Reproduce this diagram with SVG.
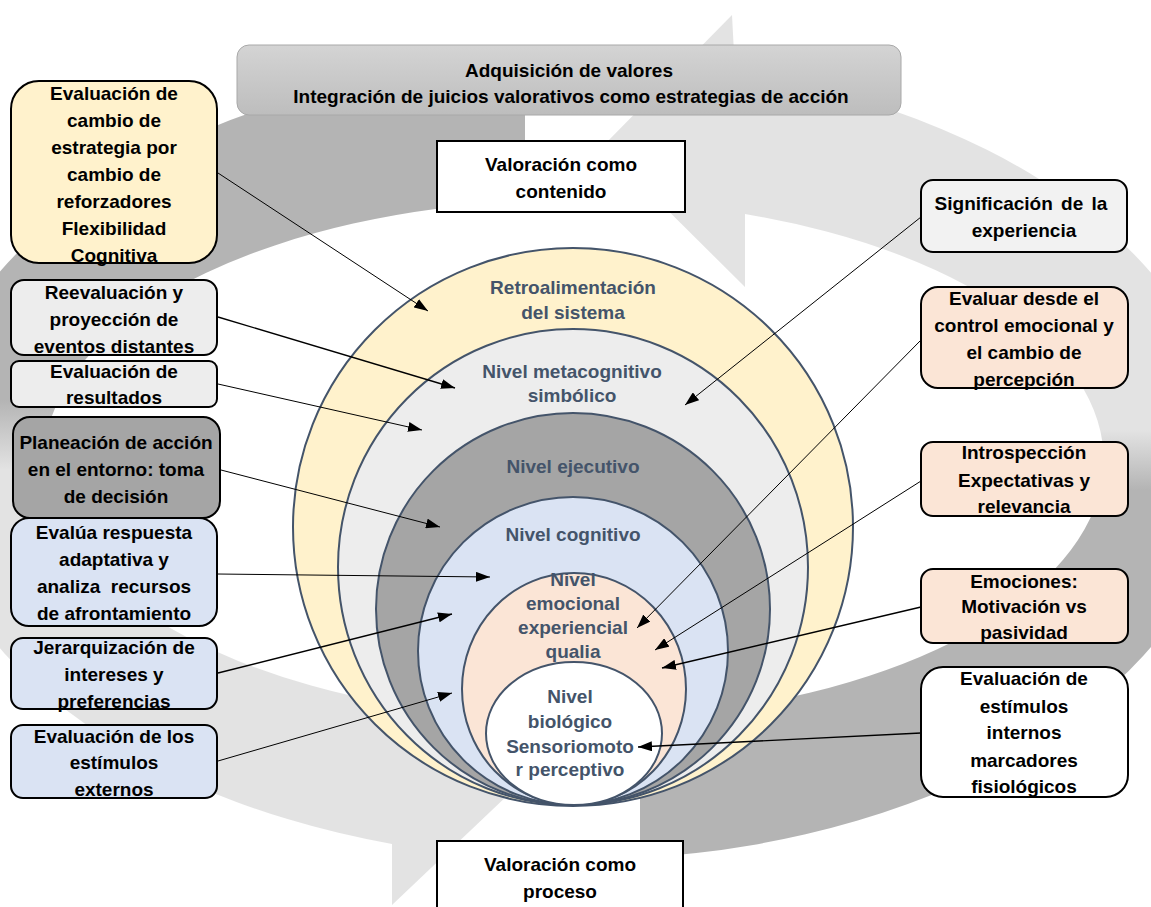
<svg xmlns="http://www.w3.org/2000/svg" width="1151" height="907" viewBox="0 0 1151 907">
  <defs>
    <!-- gradients for the two circular background arrows (dark tail, light head) -->
    <linearGradient id="gradLeft" gradientUnits="userSpaceOnUse" x1="0" y1="400" x2="0" y2="470">
      <stop offset="0" stop-color="#b4b4b4"/>
      <stop offset="1" stop-color="#e3e3e3"/>
    </linearGradient>
    <linearGradient id="gradRight" gradientUnits="userSpaceOnUse" x1="0" y1="430" x2="0" y2="490">
      <stop offset="0" stop-color="#e3e3e3"/>
      <stop offset="1" stop-color="#b4b4b4"/>
    </linearGradient>
    <linearGradient id="gradTitle" x1="0" y1="0" x2="0" y2="1">
      <stop offset="0" stop-color="#d4d4d4"/>
      <stop offset="1" stop-color="#bdbdbd"/>
    </linearGradient>
    <marker id="arrowHead" markerUnits="userSpaceOnUse" markerWidth="14" markerHeight="10" refX="14" refY="5" orient="auto">
      <path d="M0,0 L14,5 L0,10 Z" fill="#000"/>
    </marker>
    <style>
      .box { stroke: #000; stroke-width: 2; }
      .txt { font-family: "Liberation Sans", Arial, sans-serif; font-weight: bold; font-size: 19px; text-anchor: middle; fill: #000; }
      .lvl { font-family: "Liberation Sans", Arial, sans-serif; font-weight: bold; font-size: 19px; text-anchor: middle; fill: #44546a; }
      .ring { stroke: #44546a; stroke-width: 2; }
      .conn { fill: none; stroke: #000; stroke-width: 1; marker-end: url(#arrowHead); }
      .conn.heavy { stroke-width: 1.4; }
    </style>
  </defs>

  <rect width="1151" height="907" fill="#fff"/>

  <!-- background: two circular arrows -->
  <g id="cycle-arrows">
    <path id="arrow-left" fill="url(#gradLeft)"
          d="M525,61 A650,400 0 0 0 392,844 L392,905 L529,775 L392,639 L392,704 A530,260 0 0 1 525,201 Z"/>
    <path id="arrow-right" fill="url(#gradRight)"
          d="M640,858 A650,400 0 0 0 735,72 L732,15 L603,146 L745,287 L745,214 A530,260 0 0 1 640,718 Z"/>
  </g>

  <!-- title banner -->
  <g id="title">
    <rect x="237" y="45" width="664" height="70" rx="12" fill="url(#gradTitle)" stroke="#a8a8a8" stroke-width="1"/>
    <text class="txt" x="569" y="77" font-size="19.3">Adquisición de valores</text>
    <text class="txt" x="571" y="103" font-size="19.3">Integración de juicios valorativos como estrategias de acción</text>
  </g>

  <g id="valoracion-contenido">
    <rect class="box" x="437" y="141" width="248" height="71" fill="#fff"/>
    <text class="txt" x="561" y="171">Valoración como</text>
    <text class="txt" x="561" y="198">contenido</text>
  </g>

  <g id="valoracion-proceso">
    <rect class="box" x="437" y="841" width="246" height="80" fill="#fff"/>
    <text class="txt" x="560" y="871">Valoración como</text>
    <text class="txt" x="560" y="898">proceso</text>
  </g>

  <!-- nested levels -->
  <g id="levels">
    <g id="nivel-retroalimentacion">
      <ellipse class="ring" cx="573" cy="527" rx="280" ry="279" fill="#fff2cc"/>
    </g>
    <g id="nivel-metacognitivo">
      <ellipse class="ring" cx="573" cy="567" rx="235" ry="238" fill="#ededed"/>
    </g>
    <g id="nivel-ejecutivo">
      <ellipse class="ring" cx="573" cy="609" rx="197" ry="196" fill="#a5a5a5"/>
    </g>
    <g id="nivel-cognitivo">
      <ellipse class="ring" cx="573" cy="651" rx="155" ry="154" fill="#dae3f3"/>
    </g>
    <g id="nivel-emocional">
      <ellipse class="ring" cx="574" cy="689" rx="112" ry="116" fill="#fbe5d6"/>
    </g>
    <g id="nivel-biologico">
      <ellipse class="ring" cx="574" cy="733.5" rx="88" ry="71.5" fill="#fff"/>
    </g>
    <g id="level-labels">
      <text class="lvl" x="573" y="294">Retroalimentación</text>
      <text class="lvl" x="573" y="319">del sistema</text>
      <text class="lvl" x="572" y="378">Nivel metacognitivo</text>
      <text class="lvl" x="572" y="402">simbólico</text>
      <text class="lvl" x="573" y="473">Nivel ejecutivo</text>
      <text class="lvl" x="573" y="541">Nivel cognitivo</text>
      <text class="lvl" x="573" y="586">Nivel</text>
      <text class="lvl" x="573" y="610">emocional</text>
      <text class="lvl" x="573" y="634">experiencial</text>
      <text class="lvl" x="573" y="658">qualia</text>
      <text class="lvl" x="570" y="703">Nivel</text>
      <text class="lvl" x="570" y="728">biológico</text>
      <text class="lvl" x="570" y="753">Sensoriomoto</text>
      <text class="lvl" x="570" y="776">r perceptivo</text>
    </g>
  </g>

  <!-- connectors -->
  <g id="connectors">
    <line class="conn" x1="218" y1="173" x2="428" y2="311"/>
    <line class="conn heavy" x1="218" y1="317" x2="455" y2="388"/>
    <line class="conn" x1="218" y1="384" x2="422" y2="430"/>
    <line class="conn" x1="221" y1="470" x2="440" y2="527"/>
    <line class="conn" x1="217" y1="574" x2="490" y2="577"/>
    <line class="conn heavy" x1="218" y1="673" x2="452" y2="614"/>
    <line class="conn" x1="218" y1="761" x2="452" y2="693"/>
    <line class="conn" x1="921" y1="217" x2="685" y2="405"/>
    <line class="conn" x1="921" y1="340" x2="637" y2="628"/>
    <line class="conn" x1="921" y1="481" x2="655" y2="650"/>
    <line class="conn heavy" x1="921" y1="607" x2="662" y2="668"/>
    <line class="conn heavy" x1="921" y1="733" x2="638" y2="747"/>
  </g>

  <!-- left column -->
  <g id="flexibilidad-cognitiva">
    <rect class="box" x="11" y="81" width="206" height="182" rx="28" fill="#fff2cc"/>
    <text class="txt" x="114" y="100">Evaluación de</text>
    <text class="txt" x="114" y="127">cambio de</text>
    <text class="txt" x="114" y="154">estrategia por</text>
    <text class="txt" x="114" y="181">cambio de</text>
    <text class="txt" x="114" y="208">reforzadores</text>
    <text class="txt" x="114" y="235">Flexibilidad</text>
    <text class="txt" x="114" y="262">Cognitiva</text>
  </g>
  <g id="reevaluacion">
    <rect class="box" x="11" y="280" width="206" height="75" rx="13" fill="#ededed"/>
    <text class="txt" x="114" y="299">Reevaluación y</text>
    <text class="txt" x="114" y="326">proyección de</text>
    <text class="txt" x="114" y="353">eventos distantes</text>
  </g>
  <g id="evaluacion-resultados">
    <rect class="box" x="11" y="361" width="206" height="46" rx="8" fill="#ededed"/>
    <text class="txt" x="114" y="378">Evaluación de</text>
    <text class="txt" x="114" y="404">resultados</text>
  </g>
  <g id="planeacion-accion">
    <rect class="box" x="13" y="417" width="207" height="101" rx="17" fill="#a5a5a5"/>
    <text class="txt" x="116" y="449">Planeación de acción</text>
    <text class="txt" x="116" y="476">en el entorno: toma</text>
    <text class="txt" x="116" y="503">de decisión</text>
  </g>
  <g id="respuesta-adaptativa">
    <rect class="box" x="11" y="518" width="206" height="108" rx="18" fill="#dae3f3"/>
    <text class="txt" x="114" y="539">Evalúa respuesta</text>
    <text class="txt" x="114" y="566">adaptativa y</text>
    <text class="txt" x="114" y="593" xml:space="preserve">analiza  recursos</text>
    <text class="txt" x="114" y="620">de afrontamiento</text>
  </g>
  <g id="jerarquizacion">
    <rect class="box" x="11" y="638" width="206" height="71" rx="12" fill="#dae3f3"/>
    <text class="txt" x="114" y="654">Jerarquización de</text>
    <text class="txt" x="114" y="681">intereses y</text>
    <text class="txt" x="114" y="708">preferencias</text>
  </g>
  <g id="estimulos-externos">
    <rect class="box" x="11" y="725" width="206" height="73" rx="12" fill="#dae3f3"/>
    <text class="txt" x="114" y="743">Evaluación de los</text>
    <text class="txt" x="114" y="769">estímulos</text>
    <text class="txt" x="114" y="796">externos</text>
  </g>

  <!-- right column -->
  <g id="significacion">
    <rect class="box" x="921" y="180" width="206" height="72" rx="12" fill="#f2f2f2"/>
    <text class="txt" x="1021" y="210" word-spacing="3">Significación de la</text>
    <text class="txt" x="1024" y="237">experiencia</text>
  </g>
  <g id="control-emocional">
    <rect class="box" x="921" y="287" width="207" height="101" rx="17" fill="#fbe5d6"/>
    <text class="txt" x="1024" y="305">Evaluar desde el</text>
    <text class="txt" x="1024" y="332">control emocional y</text>
    <text class="txt" x="1024" y="359">el cambio de</text>
    <text class="txt" x="1024" y="386">percepción</text>
  </g>
  <g id="introspeccion">
    <rect class="box" x="921" y="442" width="207" height="74" rx="12" fill="#fbe5d6"/>
    <text class="txt" x="1024" y="459">Introspección</text>
    <text class="txt" x="1024" y="487">Expectativas y</text>
    <text class="txt" x="1024" y="513">relevancia</text>
  </g>
  <g id="emociones">
    <rect class="box" x="921" y="569" width="207" height="74" rx="12" fill="#fbe5d6"/>
    <text class="txt" x="1024" y="588">Emociones:</text>
    <text class="txt" x="1024" y="613">Motivación vs</text>
    <text class="txt" x="1024" y="639">pasividad</text>
  </g>
  <g id="estimulos-internos">
    <rect class="box" x="921" y="667" width="207" height="130" rx="22" fill="#fff"/>
    <text class="txt" x="1024" y="685">Evaluación de</text>
    <text class="txt" x="1024" y="713">estímulos</text>
    <text class="txt" x="1024" y="739">internos</text>
    <text class="txt" x="1024" y="767">marcadores</text>
    <text class="txt" x="1024" y="793">fisiológicos</text>
  </g>
</svg>
